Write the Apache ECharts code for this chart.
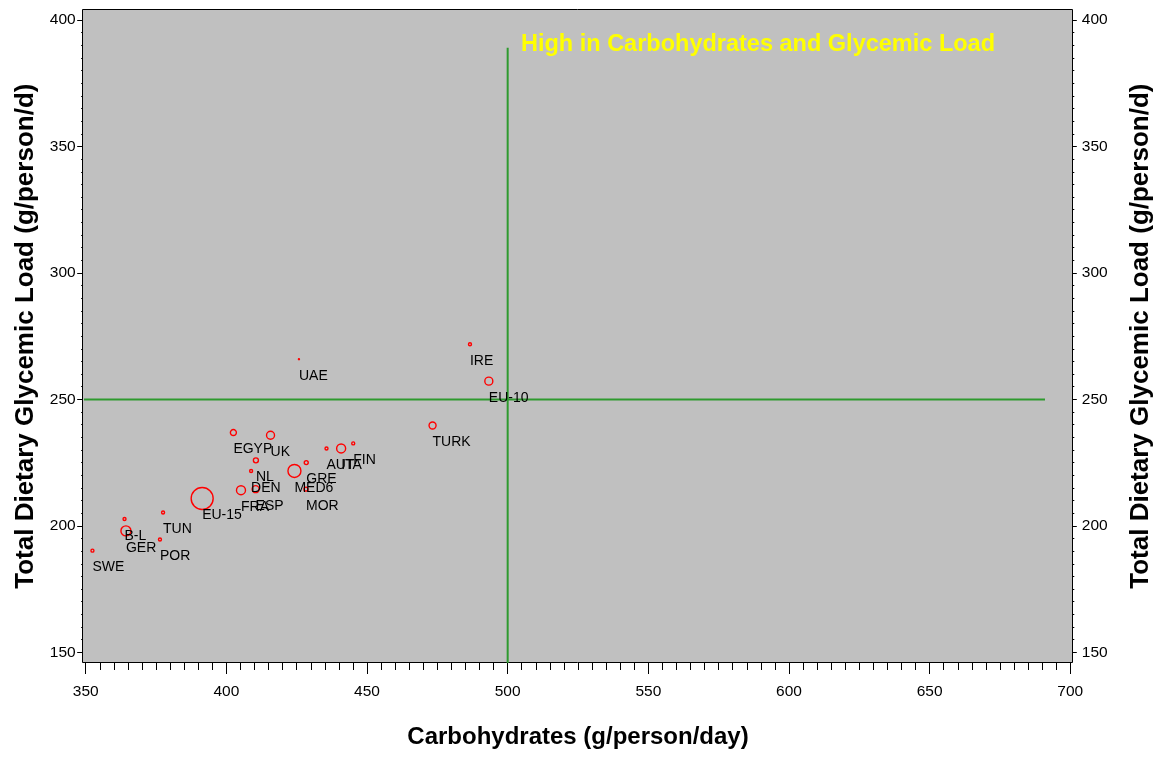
<!DOCTYPE html>
<html>
<head>
<meta charset="utf-8">
<script src="https://cdn.jsdelivr.net/npm/echarts@6/dist/echarts.min.js"></script>
<style>
  html, body { margin: 0; padding: 0; background: #fff; overflow: hidden; }
  #chart { width: 1155px; height: 757px; }
</style>
</head>
<body>
<div id="chart"></div>
<script>
// ---- data ----
const countries = ['SWE','B-L','GER','TUN','POR','EU-15','EGYP','UK','NL','DEN','FRA','ESP','MED6','GRE','MOR','AUT','ITA','FIN','UAE','IRE','EU-10','TURK'];
const carbohydrates = [352.4,363.8,364.3,377.5,376.4,391.4,402.5,415.7,410.5,408.8,405.2,410.4,424.2,428.4,428.3,435.6,440.8,445.1,425.8,486.6,493.3,473.3];
const glycemicLoad = [190.2,202.7,198.0,205.3,194.6,210.8,236.9,235.8,225.9,221.7,214.1,214.5,221.7,225.0,214.5,230.6,230.6,232.6,265.9,271.8,257.2,239.7];
const bubbleWeight = [9,9,100,9,9,484,36,64,25,9,81,49,169,16,16,9,81,9,1,9,64,49];
const xTicks = [350,400,450,500,550,600,650,700];
const yTicks = [150,200,250,300,350,400];
const refVertical = { x: 500, yFrom: 145.8, yTo: 389 };
const refHorizontal = { y: 250, xFrom: 348.9, xTo: 691 };
const quadrantNote = 'High in Carbohydrates and Glycemic Load';

const points = countries.map((c, i) => ({ name: c, value: [carbohydrates[i], glycemicLoad[i], bubbleWeight[i]] }));

const FONT = '"Liberation Sans", Arial, sans-serif';
const chart = echarts.init(document.getElementById('chart'), null, { renderer: 'canvas' });

const yAxisBase = {
  type: 'value',
  min: yTicks[0], max: yTicks[yTicks.length - 1], interval: 50,
  axisLine: { show: false },
  splitLine: { show: false },
  axisLabel: { color: '#000', fontSize: 15.5, fontFamily: FONT },
  name: 'Total Dietary Glycemic Load (g/person/d)',
  nameLocation: 'middle',
  nameTextStyle: { fontSize: 26, fontWeight: 'bold', color: '#000', fontFamily: FONT }
};

chart.setOption({
  animation: false,
  backgroundColor: '#ffffff',
  textStyle: { fontFamily: FONT },
  graphic: [
    { type: 'rect', z: -10, silent: true,
      shape: { x: 82.5, y: 9.5, width: 990, height: 653 },
      style: { fill: '#c0c0c0', stroke: '#000', lineWidth: 1 } },
    { type: 'text', z: 100, silent: true, x: 521, y: 45,
      style: { text: quadrantNote, fill: '#ffff00', font: 'bold 23.5px ' + FONT, textVerticalAlign: 'middle' } }
  ],
  grid: { left: 85.7, right: 84.7, top: 20, bottom: 104.7, containLabel: false, outerBoundsMode: 'none' },
  xAxis: {
    type: 'value', min: xTicks[0], max: xTicks[xTicks.length - 1], interval: 50,
    offset: 10.7,
    axisLine: { show: false },
    axisTick: { show: true, length: 11, lineStyle: { color: '#000', width: 1 } },
    minorTick: { show: true, splitNumber: 10, length: 7, lineStyle: { color: '#000', width: 1 } },
    splitLine: { show: false },
    axisLabel: { color: '#000', fontSize: 15.5, margin: 21, fontFamily: FONT },
    name: 'Carbohydrates (g/person/day)',
    nameLocation: 'middle', nameGap: 62,
    nameTextStyle: { fontSize: 24, fontWeight: 'bold', color: '#000', fontFamily: FONT }
  },
  yAxis: [
    Object.assign({}, yAxisBase, {
      position: 'left', offset: 3, nameGap: 41,
      axisTick: { show: true, length: 5.5, lineStyle: { color: '#000' } },
      minorTick: { show: true, splitNumber: 10, length: 1.5, lineStyle: { color: '#000' } },
      axisLabel: Object.assign({}, yAxisBase.axisLabel, { margin: 7 })
    }),
    Object.assign({}, yAxisBase, {
      position: 'right', offset: 2, nameGap: 56,
      axisTick: { show: true, length: 4.5, lineStyle: { color: '#000' } },
      minorTick: { show: true, splitNumber: 10, length: 2, lineStyle: { color: '#000' } },
      axisLabel: Object.assign({}, yAxisBase.axisLabel, { margin: 9.5 })
    })
  ],
  series: [
    { type: 'line', clip: false, symbol: 'none', silent: true, z: 1,
      data: [[refVertical.x, refVertical.yFrom], [refVertical.x, refVertical.yTo]],
      lineStyle: { color: '#2e9a2e', width: 2 } },
    { type: 'line', clip: false, symbol: 'none', silent: true, z: 1,
      data: [[refHorizontal.xFrom, refHorizontal.y], [refHorizontal.xTo, refHorizontal.y]],
      lineStyle: { color: '#2e9a2e', width: 2 } },
    { type: 'scatter', z: 3, silent: true,
      data: points,
      symbol: 'circle',
      symbolSize: v => Math.sqrt(v[2]),
      itemStyle: { color: 'rgba(0,0,0,0)', borderColor: '#ff0000', borderWidth: 1.4, opacity: 1 },
      label: { show: true, formatter: p => p.name, position: 'inside', align: 'left', verticalAlign: 'middle',
               offset: [0, 17], color: '#000', fontSize: 14, fontFamily: FONT },
      emphasis: { disabled: true }
    }
  ]
});
</script>
</body>
</html>
